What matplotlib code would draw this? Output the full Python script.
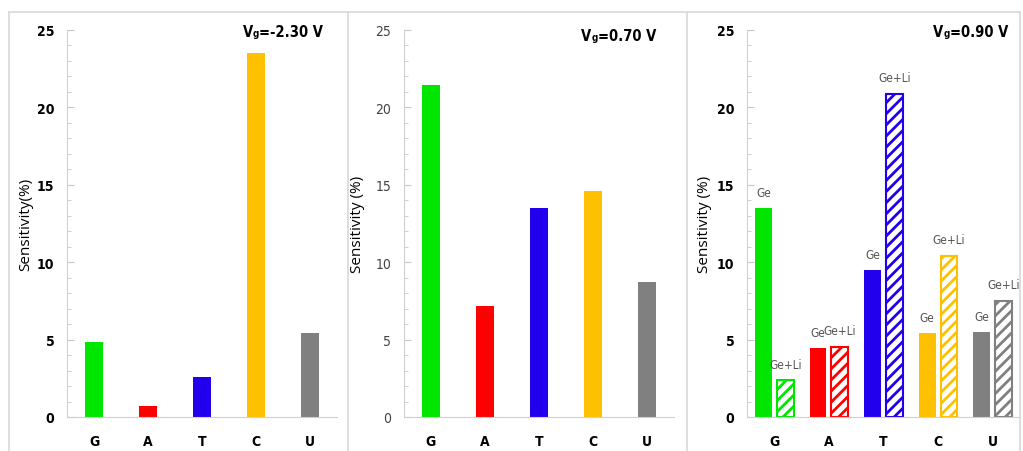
import numpy as np
from matplotlib import pyplot as plt
from matplotlib.lines import Line2D

# data
bases = ['G', 'A', 'T', 'C', 'U']
colors = ['#00E600', '#FF0000', '#2200EE', '#FFC000', '#808080']

sens_m230 = [4.85, 0.73, 2.58, 23.5, 5.43]     # Vg = -2.30 V
sens_070 = [21.47, 7.17, 13.5, 14.62, 8.7]     # Vg = 0.70 V
sens_090_ge = [13.48, 4.46, 9.5, 5.4, 5.47]    # Vg = 0.90 V, Ge
sens_090_geli = [2.39, 4.54, 20.89, 10.42, 7.51]  # Vg = 0.90 V, Ge+Li

vg_values = ['=-2.30 V', '=0.70 V', '=0.90 V']
ylabels = ['Sensitivity(%)', 'Sensitivity (%)', 'Sensitivity (%)']

narrow = dict(family=['Liberation Sans Narrow', 'DejaVu Sans'], stretch='condensed')
plt.rcParams['hatch.linewidth'] = 2.0

W, H = 1023, 452
fig = plt.figure(figsize=(W / 100, H / 100), dpi=100)

# axes boxes in pixels: left, right
boxes = [(67, 337), (404, 674), (747, 1020)]
y0, y25 = 418, 31
axes = []
for (l, r) in boxes:
    ax = fig.add_axes([l / W, 1 - y0 / H, (r - l) / W, (y0 - y25) / H])
    axes.append(ax)

x = np.arange(len(bases))


def style(ax, bold_y=True):
    ax.set_xlim(-0.5, 4.5)
    ax.set_ylim(0, 25)
    for s in ['top', 'right']:
        ax.spines[s].set_visible(False)
    for s in ['left', 'bottom']:
        ax.spines[s].set_color('#d0d0d0')
    ax.set_yticks([0, 5, 10, 15, 20, 25])
    ax.set_yticks(np.arange(0, 26, 1), minor=True)
    ax.tick_params(axis='y', which='both', direction='in', color='#c8c8c8')
    ax.tick_params(axis='y', which='major', length=5, pad=9)
    ax.tick_params(axis='y', which='minor', length=3)
    ax.tick_params(axis='x', length=0, pad=12)
    ax.set_xticks(x)
    ax.set_xticklabels(bases, fontweight='bold', fontsize=10, **narrow)
    for t in ax.get_yticklabels():
        t.set_family(narrow['family'])
        t.set_stretch('condensed')
        t.set_fontsize(10)
        if bold_y:
            t.set_fontweight('bold')
        else:
            t.set_color('#444444')


def vg_title(ax, xr, y, value):
    # "V" + subscript "g" + value, built from pieces so the condensed font is kept
    t = ax.text(xr, y, value, transform=ax.transAxes, ha='right', va='baseline',
                fontweight='bold', fontsize=10.5, **narrow)
    g = ax.annotate('g', xy=(0, 0), xycoords=t, xytext=(0, 0.5),
                    textcoords='offset points', ha='right', va='bottom',
                    fontweight='bold', fontsize=7, **narrow)
    ax.annotate('V', xy=(0, 0), xycoords=(g, t), ha='right', va='bottom',
                fontweight='bold', fontsize=10.5, **narrow)


# panel 1
ax = axes[0]
ax.bar(x, sens_m230, width=0.33, color=colors)
style(ax)
ax.set_ylabel(ylabels[0], family='Open Sans', fontsize=11)
ax.yaxis.set_label_coords(-0.126, 0.5)
vg_title(ax, 0.948, 0.985, vg_values[0])

# panel 2
ax = axes[1]
ax.bar(x, sens_070, width=0.33, color=colors)
style(ax, bold_y=False)
ax.set_ylabel(ylabels[1], family='Open Sans', fontsize=11)
ax.yaxis.set_label_coords(-0.145, 0.5)
vg_title(ax, 0.933, 0.975, vg_values[1])

# panel 3
ax = axes[2]
bw = 0.31
ax.bar(x - 0.2, sens_090_ge, width=bw, color=colors)
ax.bar(x + 0.2, sens_090_geli, width=bw, color='white', edgecolor=colors,
       hatch='///', linewidth=1.5)
for i in range(len(bases)):
    ax.text(x[i] - 0.2, sens_090_ge[i] + 0.6, 'Ge', ha='center', va='bottom',
            fontsize=8.5, color='#555555', **narrow)
    ax.text(x[i] + 0.2, sens_090_geli[i] + 0.6, 'Ge+Li', ha='center', va='bottom',
            fontsize=8.5, color='#555555', **narrow)
style(ax)
ax.set_ylabel(ylabels[2], family='Open Sans', fontsize=11)
ax.yaxis.set_label_coords(-0.128, 0.5)
vg_title(ax, 0.956, 0.985, vg_values[2])

# panel frames
lc = '#d8d8d8'
fig.add_artist(Line2D([9 / W, 1020 / W], [1 - 13 / H] * 2, color=lc, lw=1.2))
for px in [9, 348, 687, 1020]:
    fig.add_artist(Line2D([px / W] * 2, [0, 1 - 13 / H], color=lc, lw=1.2))

fig.savefig('out.png', dpi=100)
